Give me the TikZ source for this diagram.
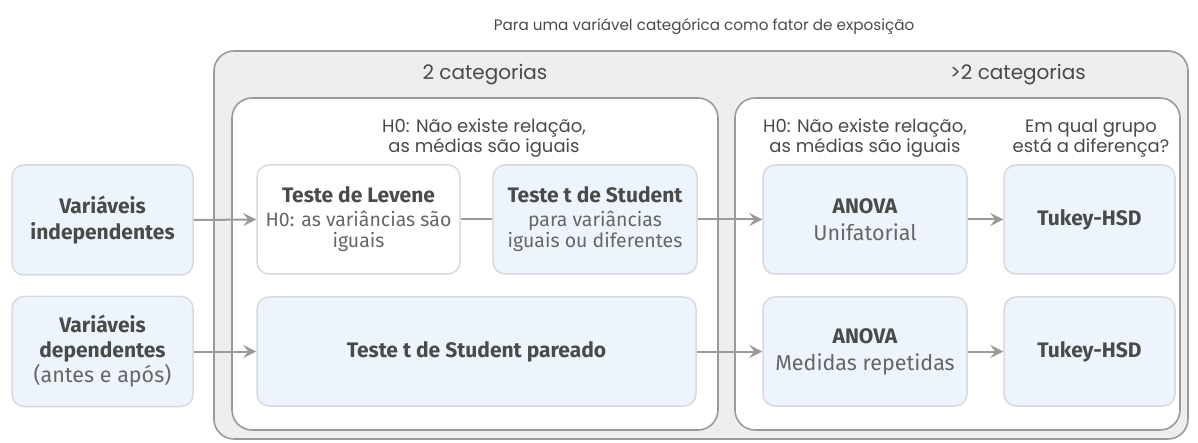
\documentclass[tikz,border=0pt]{standalone}
\usepackage{fontspec}
\setmainfont{Fira Sans}
\newfontfamily\headfont{Poppins}
\usetikzlibrary{arrows.meta}
\definecolor{txt}{HTML}{4A4A4A}
\definecolor{subtxt}{HTML}{666666}
\definecolor{bluefill}{HTML}{EDF4FB}
\definecolor{boxline}{HTML}{D6DADF}
\definecolor{frameline}{HTML}{9A9A9A}
\definecolor{outerfill}{HTML}{EEEEEE}
\definecolor{arrowcol}{HTML}{9A9A9A}
\tikzset{
  box/.style={draw=boxline, line width=1.5pt, rounded corners=12pt, align=center, text=txt,
    inner sep=2pt, font=\fontsize{20}{25}\selectfont},
  bluebox/.style={box, fill=bluefill},
  whitebox/.style={box, fill=white},
  frame/.style={draw=frameline, line width=1.6pt, rounded corners=20pt},
  head/.style={text=txt, align=center, inner sep=0pt, font=\headfont\fontsize{18}{18.5}\selectfont},
  conn/.style={draw=arrowcol, line width=2pt, -{Stealth[length=13pt,width=13pt,inset=5pt]}},
  plain/.style={draw=arrowcol, line width=2pt},
}
\newcommand{\bt}[1]{{\fontsize{21}{25}\selectfont\bfseries #1}}
\newcommand{\st}[1]{{\fontsize{19.5}{20}\selectfont\color{subtxt}#1}}
\newcommand{\lt}[1]{{\fontsize{21.5}{24}\selectfont\color{subtxt}#1}}
\begin{document}
\begin{tikzpicture}[x=1pt,y=-1pt]
\useasboundingbox (0,0) rectangle (1198,443);
% frames
\draw[frame, fill=outerfill] (214,51) rectangle (1188,439);
\draw[frame, fill=white] (232,98) rectangle (718,430);
\draw[frame, fill=white] (735,98) rectangle (1180,430);
% headers
\node[head, font=\headfont\fontsize{15.2}{18}\selectfont] (title) at (704,27)
  {Para uma variável categórica como fator de exposição};
\node[head, font=\headfont\fontsize{20}{22}\selectfont] (c2) at (485,75) {2 categorias};
\node[head, font=\headfont\fontsize{20}{22}\selectfont] (cm) at (1018,75) {>2 categorias};
\node[head] (h0a) at (484,138) {H0: Não existe relação,\\as médias são iguais};
\node[head] (h0b) at (865,138) {H0: Não existe relação,\\as médias são iguais};
\node[head] (grp) at (1091,138) {Em qual grupo\\está a diferença?};
% boxes
\node[bluebox, minimum width=181pt, minimum height=110pt] (vi) at (102.5,220)
  {\bt{Variáveis}\\[1pt]\bt{independentes}};
\node[bluebox, minimum width=181pt, minimum height=110pt] (vd) at (102.5,351.5)
  {\bt{Variáveis}\\\bt{dependentes}\\\lt{(antes e após)}};
\node[whitebox, minimum width=203pt, minimum height=109pt] (lev) at (358.5,219.5)
  {\bt{Teste de Levene}\\[-1pt]\st{H0: as variâncias são}\\[-4pt]\st{iguais}};
\node[bluebox, minimum width=204pt, minimum height=109pt] (tst) at (595,219.5)
  {\bt{Teste t de Student}\\[-1pt]\st{para variâncias}\\[-4pt]\st{iguais ou diferentes}};
\node[bluebox, minimum width=439pt, minimum height=109pt] (par) at (476.5,351.5)
  {\bt{Teste t de Student pareado}};
\node[bluebox, minimum width=204pt, minimum height=109pt] (an1) at (865,219.5)
  {\bt{ANOVA}\\[2pt]\lt{Unifatorial}};
\node[bluebox, minimum width=204pt, minimum height=109pt] (an2) at (865,351.5)
  {\bt{ANOVA}\\[2pt]\lt{Medidas repetidas}};
\node[bluebox, minimum width=171pt, minimum height=109pt] (tk1) at (1089.5,219.5)
  {\bt{Tukey-HSD}};
\node[bluebox, minimum width=171pt, minimum height=109pt] (tk2) at (1089.5,351.5)
  {\bt{Tukey-HSD}};
% connectors
\draw[conn] (vi.east) -- (lev.west);
\draw[plain] (lev.east) -- (tst.west);
\draw[conn] (tst.east) -- (an1.west);
\draw[conn] (an1.east) -- (tk1.west);
\draw[conn] (vd.east) -- (par.west);
\draw[conn] (par.east) -- (an2.west);
\draw[conn] (an2.east) -- (tk2.west);
\end{tikzpicture}
\end{document}
